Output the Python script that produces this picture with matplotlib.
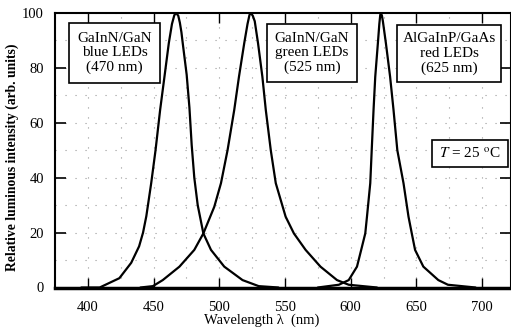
import numpy as np
import matplotlib
matplotlib.use('Agg')
import matplotlib.pyplot as plt
from matplotlib.patches import Rectangle
from matplotlib.ticker import MultipleLocator

plt.rcParams['font.family'] = ['Liberation Serif', 'DejaVu Serif']
plt.rcParams['mathtext.fontset'] = 'stix'

# spectra (wavelength nm, relative intensity)
blue_wl = [395, 409, 424, 433, 439, 442, 444.5, 448.2, 451.5, 455, 458.3, 461.6, 464, 465.8, 467.2,
           468.8, 470, 471.2, 472.2, 475.2, 477.3, 479, 481, 483.6, 487.9, 493.7, 503.8, 517.7, 530, 545]
blue_I = [0, 0, 3.4, 9, 15, 20, 26, 38, 50, 64.7, 76.8, 89, 96, 99.2, 100,
          99, 96.5, 93, 89, 77.5, 65.5, 52, 40, 30, 19.7, 13.7, 7.6, 2.7, 0.5, 0]

green_wl = [440, 449.5, 457, 469.7, 481, 487.9, 496.2, 501.3, 506.3, 511.4, 515, 519, 521.5, 523, 524,
            525.5, 527, 529.5, 532.8, 535.4, 539.2, 543, 550.5, 556.8, 565.7, 577, 589.6, 598.5, 620]
green_I = [0, 0.5, 2.7, 7.6, 13.7, 19.7, 29.4, 38, 50, 64.7, 76.8, 89, 96, 99.3, 100,
           99, 97, 89, 76.8, 64.7, 50, 38, 25.8, 19.7, 13.7, 7.6, 2.7, 1, 0]

red_wl = [575, 591, 598.5, 604.8, 608, 611.1, 612.4, 614.9, 616.1, 617.4, 618.7, 620.7, 621.8, 622.5, 623,
          623.8, 624.5, 626.8, 630, 632.6, 635.5, 640.2, 644, 646.5, 649, 655.3, 666.7, 674, 695]
red_I = [0, 1, 2.7, 7.6, 13.7, 19.7, 25.8, 38, 51, 64.7, 76.8, 89, 96, 99.3, 100,
         99, 97, 89, 76.8, 64.7, 50, 38, 25.8, 19.7, 13.7, 7.6, 2.7, 1, 0]

box_texts = ['GaInN/GaN\nblue LEDs\n(470 nm)',
             'GaInN/GaN\ngreen LEDs\n(525 nm)',
             'AlGaInP/GaAs\nred LEDs\n(625 nm)']

W, H = 511, 335
fig = plt.figure(figsize=(W / 100, H / 100), dpi=100)
ax = fig.add_axes([55 / W, 1 - 287.5 / H, 456 / W, 274.5 / H])

for wl, inten in [(blue_wl, blue_I), (green_wl, green_I), (red_wl, red_I)]:
    ax.plot(wl, inten, color='black', lw=1.6, solid_joinstyle='round', solid_capstyle='round', zorder=3)

ax.set_xlim(375, 722)
ax.set_ylim(0, 100)
ax.set_xticks([400, 450, 500, 550, 600, 650, 700])
ax.set_yticks([0, 20, 40, 60, 80, 100])
ax.xaxis.set_minor_locator(MultipleLocator(25))
ax.yaxis.set_minor_locator(MultipleLocator(10))
ax.grid(True, which='both', color='#999999', linestyle=(0, (1, 8)), lw=0.8)
ax.tick_params(which='minor', length=0)
ax.tick_params(axis='x', which='major', direction='in', length=7, width=1, top=True, pad=10, labelsize=10.5)
ax.tick_params(axis='y', which='major', direction='in', length=8, width=1.2, right=True, pad=8, labelsize=10.5)
for s in ['left', 'top']:
    ax.spines[s].set_linewidth(1.5)
ax.spines['bottom'].set_linewidth(2.5)
ax.spines['right'].set_linewidth(1.5)

ax.set_xlabel('Wavelength λ  (nm)', fontsize=10.5)
ax.xaxis.set_label_coords((262 - 55) / 456, -0.095)
fig.text(12 / W, 1 - 157 / H, 'Relative luminous intensity (arb. units)', rotation=90,
         ha='center', va='center', fontsize=9.8, fontweight='bold')

# label boxes (pixel extents from the picture)
boxes = [(69, 23, 160, 83), (267, 24, 357, 82), (397, 25, 501, 82)]
for (x0, y0, x1, y1), txt in zip(boxes, box_texts):
    fig.add_artist(Rectangle((x0 / W, 1 - y1 / H), (x1 - x0) / W, (y1 - y0) / H,
                             transform=fig.transFigure, facecolor='white', edgecolor='black', lw=1.2, zorder=5))
    fig.text((x0 + x1) / 2 / W, 1 - (y0 + y1) / 2 / H, txt, ha='center', va='center',
             fontsize=11, linespacing=1.15, zorder=6)

fig.add_artist(Rectangle((432 / W, 1 - 167 / H), 76 / W, 27 / H, transform=fig.transFigure,
                         facecolor='white', edgecolor='black', lw=1.2, zorder=5))
fig.text(470 / W, 1 - 153.5 / H, r'$T$ = 25 $^{\rm o}$C', ha='center', va='center', fontsize=11, zorder=6)

fig.savefig('out.png', dpi=100)
